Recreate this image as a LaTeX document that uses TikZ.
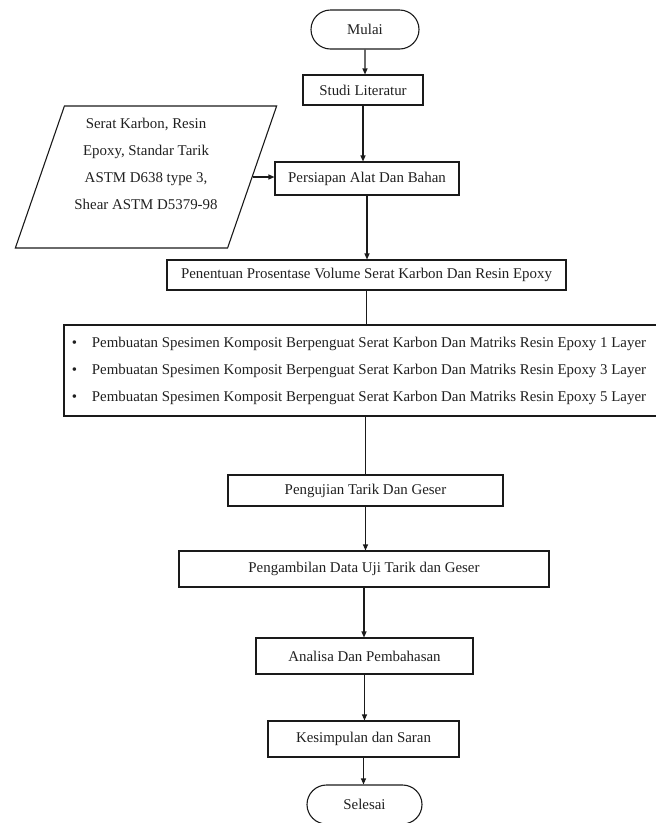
\documentclass[tikz,border=0pt]{standalone}
\usepackage{fontspec}
\setmainfont{Liberation Serif}
\usepackage{tikz}
\usetikzlibrary{arrows.meta, shapes.geometric, shapes.misc}
\definecolor{flowline}{HTML}{1A1A1A}
\definecolor{flowtext}{HTML}{202020}
\newcommand{\flowfont}{\fontsize{14.9}{27}\selectfont}
\newcommand{\layeritem}[1]{\makebox[20pt][l]{\textbullet}Pembuatan Spesimen Komposit Berpenguat Serat Karbon Dan Matriks Resin Epoxy #1 Layer\hspace*{8pt}}
\tikzset{
  prosesbox/.style={draw=flowline, line width=1.1pt, rectangle, inner sep=0pt, align=center, font=\flowfont, text=flowtext},
  terminal/.style={prosesbox, rounded rectangle},
  inputbox/.style={prosesbox, trapezium, trapezium left angle=70, trapezium right angle=110, trapezium stretches=true},
  arr/.style={draw=flowline, line width=1.1pt, -{Triangle[length=6pt,width=5pt]}},
  garis/.style={draw=flowline, line width=1.1pt}
}

\begin{document}
\begin{tikzpicture}[x=1pt, y=-1pt]
    \useasboundingbox (0,0) rectangle (656,823);

    % start and the first steps
    \node[terminal, minimum width=108pt, minimum height=39pt] (mulai) at (365,29.5) {Mulai};
    \node[prosesbox, minimum width=120pt, minimum height=30pt] (studi) at (363,90) {Studi Literatur};
    \node[prosesbox, minimum width=184pt, minimum height=33pt] (persiapan) at (367,178.5) {Persiapan Alat Dan Bahan};
    \node[inputbox, minimum width=262pt, minimum height=142pt] (bahan) at (146,177)
      {Serat Karbon, Resin\\Epoxy, Standar Tarik\\ASTM D638 type 3,\\Shear ASTM D5379-98\\\mbox{}};
    \node[prosesbox, minimum width=399pt, minimum height=30pt] (penentuan) at (366.5,275)
      {Penentuan Prosentase Volume Serat Karbon Dan Resin Epoxy};

    % specimen box, three variants
    \node[prosesbox, align=left, minimum width=598pt, minimum height=91pt] (layer) at (363,370.5)
      {\layeritem{1}\\\layeritem{3}\\\layeritem{5}};

    % testing to the end
    \node[prosesbox, minimum width=275pt, minimum height=31pt] (pengujian) at (365.5,490.5) {Pengujian Tarik Dan Geser};
    \node[prosesbox, minimum width=370pt, minimum height=36pt] (pengambilan) at (364,569) {Pengambilan Data Uji Tarik dan Geser};
    \node[prosesbox, minimum width=217pt, minimum height=36pt] (analisa) at (364.5,656) {Analisa Dan Pembahasan};
    \node[prosesbox, minimum width=191pt, minimum height=36pt] (kesimpulan) at (363.5,739) {Kesimpulan dan Saran};
    \node[terminal, minimum width=115pt, minimum height=39pt] (selesai) at (364.5,804.5) {Selesai};

    \draw[arr] (mulai) -- (mulai |- studi.north);
    \draw[arr] (studi) -- (studi |- persiapan.north);
    \draw[arr] (bahan.east) -- (bahan.east -| persiapan.west);
    \draw[arr] (persiapan) -- (persiapan |- penentuan.north);
    \draw[garis] (penentuan) -- (penentuan |- layer.north);
    \draw[garis] (pengujian |- layer.south) -- (pengujian);
    \draw[arr] (pengujian) -- (pengujian |- pengambilan.north);
    \draw[arr] (pengambilan) -- (pengambilan |- analisa.north);
    \draw[arr] (analisa) -- (analisa |- kesimpulan.north);
    \draw[arr] (kesimpulan) -- (kesimpulan |- selesai.north);
\end{tikzpicture}
\end{document}
